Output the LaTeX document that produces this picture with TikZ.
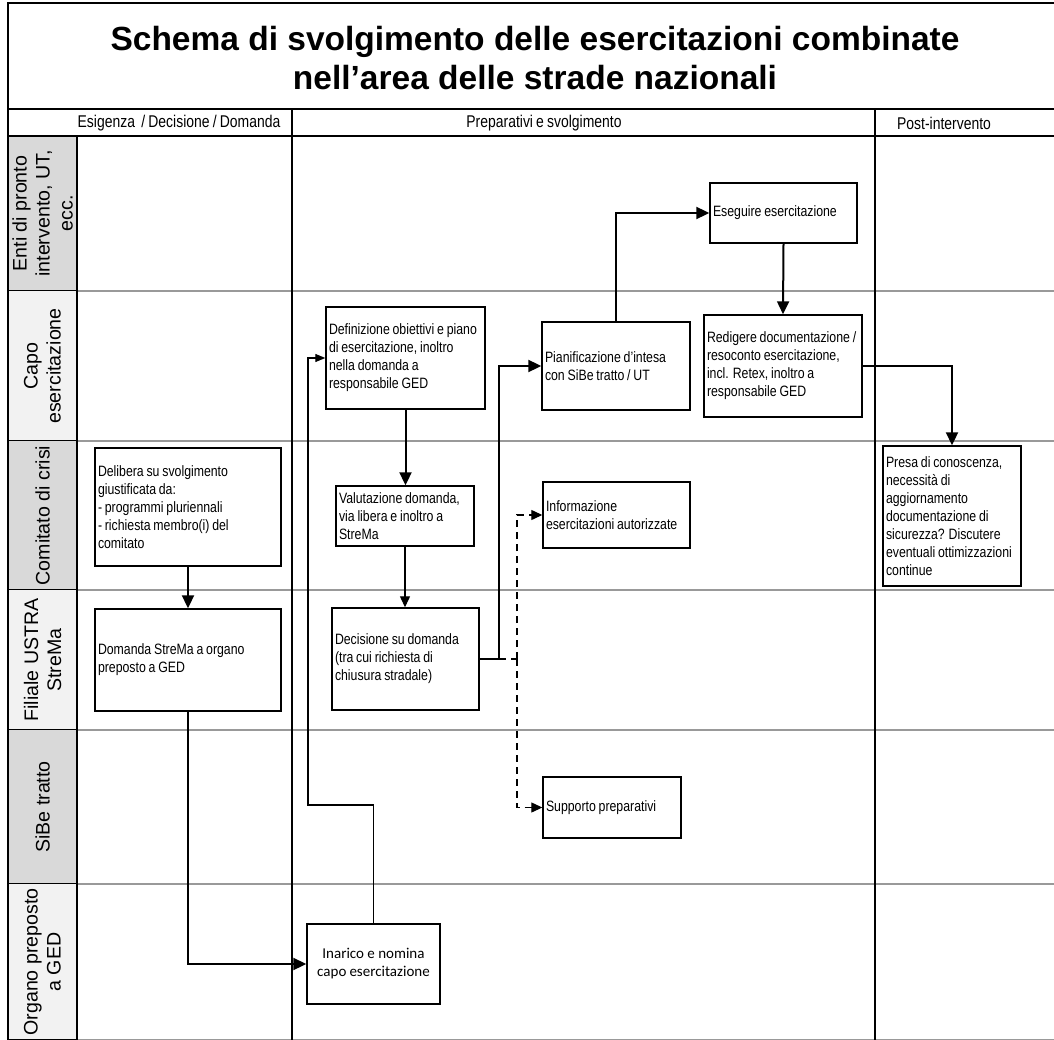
\documentclass[tikz,border=0pt]{standalone}
\usepackage{fontspec}
\setmainfont{Liberation Sans}
\newfontfamily\narrowsf[FakeStretch=0.82]{Liberation Sans}
\newfontfamily\calibsf{Carlito}
\usetikzlibrary{arrows.meta,calc}
\definecolor{lanedark}{rgb}{0.851,0.851,0.851}
\definecolor{lanelight}{rgb}{0.949,0.949,0.949}
\definecolor{laneline}{rgb}{0.6,0.6,0.6}
\newcommand{\boxfont}{\narrowsf\fontsize{15}{18}\selectfont}
\newcommand{\headfont}{\narrowsf\fontsize{17}{20}\selectfont}
\newcommand{\lanefont}{\fontsize{19.6}{23}\selectfont}
\newcommand{\calibfont}{\calibsf\fontsize{15}{18}\selectfont}
\newcommand{\narrowspace}{\spaceskip=0.82\fontdimen2\font plus 0.82\fontdimen3\font minus 0.82\fontdimen4\font\relax
  \hyphenpenalty=10000\relax}

\begin{document}
\begin{tikzpicture}[x=1pt,y=-1pt,
    task/.style={draw,line width=1.4pt,fill=white,font=\boxfont,align=flush left,inner xsep=3pt,inner ysep=2pt,
      execute at begin node=\narrowspace},
    head/.style={font=\headfont,execute at begin node=\narrowspace},
    flow/.style={line width=2pt,-{Triangle[length=13pt,width=12pt]}},
    thinflow/.style={line width=1.2pt,-{Triangle[length=11pt,width=10pt]}},
    optflow/.style={line width=1.2pt,dash pattern=on 7pt off 5pt,-{Triangle[length=11pt,width=10pt]}}]
    \useasboundingbox (0,0) rectangle (1054,1040);
    \fill[white] (0,0) rectangle (1054,1040);

    \foreach \ytop/\ybot/\shade/\txt [count=\i] in {136/291/lanedark/{Enti di pronto\\intervento, UT,\\ecc.},
      291/441/lanelight/{Capo\\esercitazione}, 441/590/lanedark/{Comitato di crisi},
      590/730/lanelight/{Filiale USTRA\\StreMa}, 730/884/lanedark/{SiBe tratto},
      884/1040/lanelight/{Organo preposto\\a GED}}{% one swimlane per actor
      \fill[\shade] (8,\ytop) rectangle (77,\ybot);
      \draw[laneline,line width=1.4pt] (77,\ybot) -- (1060,\ybot);
      \draw[line width=1.4pt] (8,\ybot) -- (77,\ybot);
      \node[rotate=90,align=center,font=\lanefont] (lane\i) at (42.5,{(\ytop+\ybot)/2}) {\txt};
    }

    \draw[line width=1.4pt] (8,1040) -- (8,3) -- (1060,3);% Outer frame
    \draw[line width=1.4pt] (8,109) -- (1060,109);
    \draw[line width=1.4pt] (8,136) -- (1060,136);
    \draw[line width=1.4pt] (77,136) -- (77,1040);
    \foreach \x in {292,875}{% phase columns
      \draw[line width=1.2pt] (\x,109) -- (\x,1040);
    }

    \node[font=\fontsize{33.5}{39}\selectfont\bfseries,align=center] (title) at (535,58)
      {Schema di svolgimento delle esercitazioni combinate\\nell’area delle strade nazionali};
    \node[head] (colA) at (179,123) {Esigenza \ / Decisione / Domanda};
    \node[head] (colB) at (544,123) {Preparativi e svolgimento};
    \node[head] (colC) at (944,123) {Post-intervento};

    \node[task,text width=180pt,minimum height=118pt] (delib) at (188,507)
      {Delibera su svolgimento\\giustificata da:\\- programmi pluriennali\\- richiesta membro(i) del\\comitato};
    \node[task,text width=180pt,minimum height=102pt] (domanda) at (188,660)
      {Domanda StreMa a organo\\preposto a GED};
    \node[task,font=\calibfont,align=center,text width=127pt,minimum height=80pt] (inarico) at (373.5,964)
      {Inarico e nomina\\capo esercitazione};
    \node[task,text width=153pt,minimum height=102pt] (defin) at (405.5,358)
      {Definizione obiettivi e piano\\di esercitazione, inoltro\\nella domanda a\\responsabile GED};
    \node[task,text width=132pt,minimum height=60pt] (valut) at (405,516)
      {Valutazione domanda,\\via libera e inoltro a\\StreMa};
    \node[task,text width=141pt,minimum height=102pt] (decis) at (405.5,659)
      {Decisione su domanda\\(tra cui richiesta di\\chiusura stradale)};
    \node[task,text width=141pt,minimum height=66pt] (info) at (616.5,515)
      {Informazione\\esercitazioni autorizzate};
    \node[task,text width=132pt,minimum height=61pt] (supp) at (612,807.5)
      {Supporto preparativi};
    \node[task,text width=142pt,minimum height=88pt] (pian) at (616,366)
      {Pianificazione d’intesa\\con SiBe tratto / UT};
    \node[task,text width=141pt,minimum height=60pt] (eseg) at (783.5,213)
      {Eseguire esercitazione};
    \node[task,text width=152pt,minimum height=102pt] (redig) at (783,366)
      {Redigere documentazione /\\resoconto esercitazione,\\incl. Retex, inoltro a\\responsabile GED};
    \node[task,text width=132pt,minimum height=140pt] (presa) at (952,516)
      {Presa di conoscenza,\\necessità di\\aggiornamento\\documentazione di\\sicurezza? Discutere\\eventuali ottimizzazioni\\continue};

    \coordinate (capoup) at (308,805);
    \coordinate (jn1) at (499,659);
    \coordinate (jn2) at (517,659);

    \draw[flow] (delib.south) -- (domanda.north);
    \draw[flow] (domanda.south) |- (inarico.west);
    \draw[thinflow,-{Triangle[length=10pt,width=8pt]}] (inarico.north) |- (capoup) |- (defin.west);% back up to capo
    \draw[flow] (defin.south) -- (defin.south |- valut.north);
    \draw[thinflow] (valut.south) -- (valut.south |- decis.north);
    \draw[flow] (decis.east) -- (jn1) |- (pian.west);
    \draw[line width=1.2pt,dash pattern=on 7pt off 5pt] (jn1) -- (jn2);
    \draw[optflow] (jn2) |- (info.west);% optional branches
    \draw[optflow] (jn2) |- (supp.west);
    \draw[flow] (pian.north) |- (eseg.west);
    \draw[flow] (eseg.south) -- (redig.north);
    \draw[flow] (redig.east) -| (presa.north);

\end{tikzpicture}
\end{document}
